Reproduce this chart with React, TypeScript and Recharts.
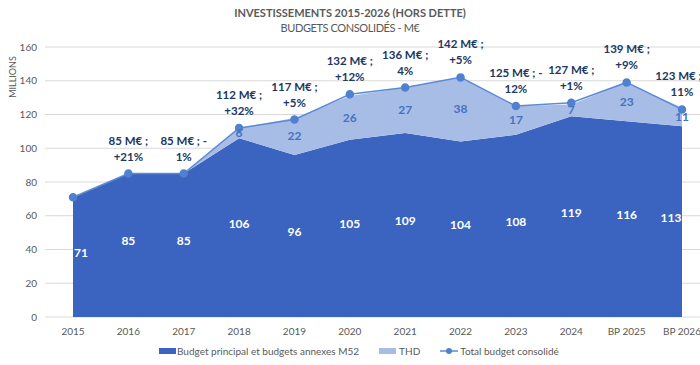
import React from 'react';
import {
  ComposedChart,
  Area,
  Line,
  XAxis,
  YAxis,
  CartesianGrid,
  LabelList,
} from 'recharts';

const YEARS = ['2015', '2016', '2017', '2018', '2019', '2020', '2021', '2022', '2023', '2024', 'BP 2025', 'BP 2026'];
const M52 = [71, 85, 85, 106, 96, 105, 109, 104, 108, 119, 116, 113];
const THD = [0, 0, 0, 6, 22, 26, 27, 38, 17, 7, 23, 11];
const TOTAL = [71, 85, 85, 112, 117, 132, 136, 142, 125, 127, 139, 123];
const TOTAL_LABELS: [string, string][] = [
  ['', ''],
  ['85 M€ ;', '+21%'],
  ['85 M€ ; -', '1%'],
  ['112 M€ ;', '+32%'],
  ['117 M€ ;', '+5%'],
  ['132 M€ ;', '+12%'],
  ['136 M€ ;', '4%'],
  ['142 M€ ;', '+5%'],
  ['125 M€ ; -', '12%'],
  ['127 M€ ;', '+1%'],
  ['139 M€ ;', '+9%'],
  ['123 M€ ; -', '11%'],
];
const Y_TICKS = [0, 20, 40, 60, 80, 100, 120, 140, 160];

const DARK = '#3B64C0';
const LIGHT = '#A8BDE6';
const LINE = '#5B8BD6';
const FONT = 'Lato, "Open Sans", sans-serif';

const data = YEARS.map((year, i) => ({
  year,
  m52: M52[i],
  thd: THD[i],
  total: TOTAL[i],
}));

const TotalLabel = (props: any) => {
  const { x, y, index } = props;
  const [l1, l2] = TOTAL_LABELS[index];
  if (!l1) return null;
  return (
    <text x={x} textAnchor="middle" fill="#203864" fontSize={11.5} fontWeight={700} fontFamily={FONT}>
      <tspan x={x} y={y - 29}>{l1}</tspan>
      <tspan x={x} y={y - 13}>{l2}</tspan>
    </text>
  );
};

// edge labels are pushed inward, as in the original chart
const M52Label = (props: any) => {
  const { x, y, index } = props;
  const shift = index === 0 ? 8 : index === M52.length - 1 ? -11 : 0;
  return (
    <text x={x + shift} y={y} textAnchor="middle" fill="#fff" fontSize={12} fontWeight={700} fontFamily={FONT}>
      {M52[index]}
    </text>
  );
};

const ThdLabel = (props: any) => {
  const { x, y, index } = props;
  if (!THD[index]) return null;
  return (
    <text x={x} y={y} dy={4} textAnchor="middle" fill="#4472C4" fontSize={12} fontWeight={700} fontFamily={FONT}>
      {THD[index]}
    </text>
  );
};

const legendText: React.CSSProperties = { fontSize: 10, color: '#595959', fontFamily: FONT };

export default function App() {
  return (
    <div style={{ position: 'absolute', left: 0, top: 0, width: 700, height: 365, overflow: 'hidden', background: '#fff' }}>
      <div style={{ position: 'absolute', top: 5, width: 700, textAlign: 'center', color: '#595959', fontFamily: FONT, fontSize: 11, lineHeight: '15px' }}>
        <div style={{ fontWeight: 700 }}>INVESTISSEMENTS 2015-2026 (HORS DETTE)</div>
        <div style={{ letterSpacing: -0.4 }}>BUDGETS CONSOLIDÉS - M€</div>
      </div>
      <div
        style={{
          position: 'absolute',
          left: 12,
          top: 77,
          transform: 'translate(-50%, -50%) rotate(-90deg)',
          fontSize: 9,
          color: '#595959',
          fontFamily: FONT,
          whiteSpace: 'nowrap',
        }}
      >
        MILLIONS
      </div>
      <ComposedChart width={700} height={365} data={data} margin={{ top: 47, right: 0, bottom: 18, left: 0 }}>
        <CartesianGrid vertical={false} stroke="#D9D9D9" />
        <XAxis
          dataKey="year"
          height={30}
          interval={0}
          axisLine={false}
          tickLine={false}
          tickMargin={5}
          padding={{ left: 28, right: 18 }}
          tick={{ fontSize: 10, fill: '#595959', fontFamily: FONT }}
        />
        <YAxis
          width={45}
          domain={[0, 160]}
          ticks={Y_TICKS}
          axisLine={false}
          tickLine={false}
          tick={{ fontSize: 10, fill: '#595959', fontFamily: FONT }}
        />
        <Area
          dataKey="m52"
          stackId="a"
          fill={DARK}
          fillOpacity={1}
          stroke="none"
          isAnimationActive={false}
        />
        <Area
          dataKey="thd"
          stackId="a"
          fill={LIGHT}
          fillOpacity={1}
          stroke="none"
          isAnimationActive={false}
        />
        <Line
          dataKey="total"
          stroke={LINE}
          strokeWidth={1.5}
          dot={{ r: 3.5, fill: '#4F81CF', stroke: '#4F81CF' }}
          isAnimationActive={false}
        >
          <LabelList content={TotalLabel} />
        </Line>
        <Line
          dataKey={(d: any) => d.m52 / 2}
          stroke="none"
          dot={false}
          activeDot={false}
          isAnimationActive={false}
        >
          <LabelList content={M52Label} />
        </Line>
        <Line
          dataKey={(d: any) => d.m52 + d.thd / 2}
          stroke="none"
          dot={false}
          activeDot={false}
          isAnimationActive={false}
        >
          <LabelList content={ThdLabel} />
        </Line>
      </ComposedChart>
      <div
        style={{
          position: 'absolute',
          top: 345,
          left: 159,
          display: 'flex',
          alignItems: 'center',
          whiteSpace: 'nowrap',
          ...legendText,
        }}
      >
        <span style={{ display: 'inline-block', width: 17, height: 6, background: DARK, marginRight: 1 }} />
        <span>Budget principal et budgets annexes M52</span>
        <span style={{ display: 'inline-block', width: 17, height: 6, background: LIGHT, marginLeft: 20, marginRight: 3 }} />
        <span>THD</span>
        <svg width={18} height={8} style={{ marginLeft: 20, marginRight: 2 }}>
          <line x1={0} y1={4} x2={18} y2={4} stroke={LINE} strokeWidth={1.5} />
          <circle cx={9} cy={4} r={3} fill="#4F81CF" />
        </svg>
        <span>Total budget consolidé</span>
      </div>
    </div>
  );
}
